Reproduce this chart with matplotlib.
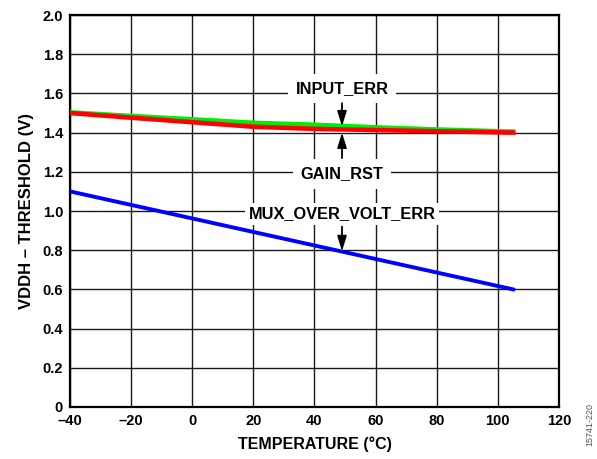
import numpy as np
import matplotlib
matplotlib.use('Agg')
import matplotlib.pyplot as plt

plt.rcParams['font.family'] = ['Liberation Sans', 'DejaVu Sans']
plt.rcParams['font.weight'] = 'bold'

# Data
temp = [-40, -20, 0, 20, 40, 60, 80, 105]
input_err = [1.503, 1.485, 1.468, 1.450, 1.440, 1.427, 1.416, 1.405]
gain_rst = [1.500, 1.476, 1.453, 1.430, 1.419, 1.413, 1.407, 1.400]
mux_temp = [-40, 105]
mux_over_volt_err = [1.10, 0.60]

xticks = [-40, -20, 0, 20, 40, 60, 80, 100, 120]
yticks = [0, 0.2, 0.4, 0.6, 0.8, 1.0, 1.2, 1.4, 1.6, 1.8, 2.0]
ytick_labels = ['0', '0.2', '0.4', '0.6', '0.8', '1.0', '1.2', '1.4', '1.6', '1.8', '2.0']

fig = plt.figure(figsize=(5.97, 4.59), dpi=100)
ax = fig.add_axes([0.1173, 0.1133, 0.819, 0.854])

ax.plot(temp, input_err, color='#00ee00', lw=3.3, zorder=3)
ax.plot(temp, gain_rst, color='#ff0000', lw=3.3, zorder=4)
ax.plot(mux_temp, mux_over_volt_err, color='#0000ff', lw=2.8, zorder=3)

ax.set_xlim(-40, 120)
ax.set_ylim(0, 2.0)
ax.set_xticks(xticks)
ax.set_xticklabels([str(t).replace('-', '\u2013') for t in xticks])
ax.set_yticks(yticks)
ax.set_yticklabels(ytick_labels)
ax.tick_params(length=0, labelsize=10.5, pad=5)
ax.grid(True, color='#1a1a1a', lw=1.0)
ax.set_axisbelow(True)
for s in ax.spines.values():
    s.set_linewidth(1.6)

ax.set_xlabel('TEMPERATURE (°C)', fontsize=11.5, fontweight='bold', labelpad=6)
ax.set_ylabel('VDDH \u2013 THRESHOLD (V)', fontsize=12, fontweight='bold', labelpad=6)

box = dict(boxstyle='square,pad=0.45', fc='white', ec='none')
ax.text(49, 1.625, 'INPUT_ERR', ha='center', va='center', fontsize=11.8,
        fontweight='bold', bbox=box, zorder=5)
ax.text(49, 1.19, 'GAIN_RST', ha='center', va='center', fontsize=11.8,
        fontweight='bold', bbox=box, zorder=5)
ax.text(49, 0.985, 'MUX_OVER_VOLT_ERR', ha='center', va='center', fontsize=11.8,
        fontweight='bold', bbox=dict(boxstyle='square,pad=0.2', fc='white', ec='none'), zorder=5)

arrow = dict(arrowstyle='-|>,head_length=0.9,head_width=0.28', color='black',
             lw=1.3, shrinkA=0, shrinkB=0)
ax.annotate('', xy=(49, 1.432), xytext=(49, 1.55), arrowprops=arrow, zorder=6)
ax.annotate('', xy=(49, 1.40), xytext=(49, 1.27), arrowprops=arrow, zorder=6)
ax.annotate('', xy=(49, 0.795), xytext=(49, 0.92), arrowprops=arrow, zorder=6)

fig.text(0.988, 0.075, '15741-220', rotation=90, fontsize=6.5, color='#555555',
         fontweight='normal', ha='center', va='center')

fig.savefig('out.png', dpi=100)
